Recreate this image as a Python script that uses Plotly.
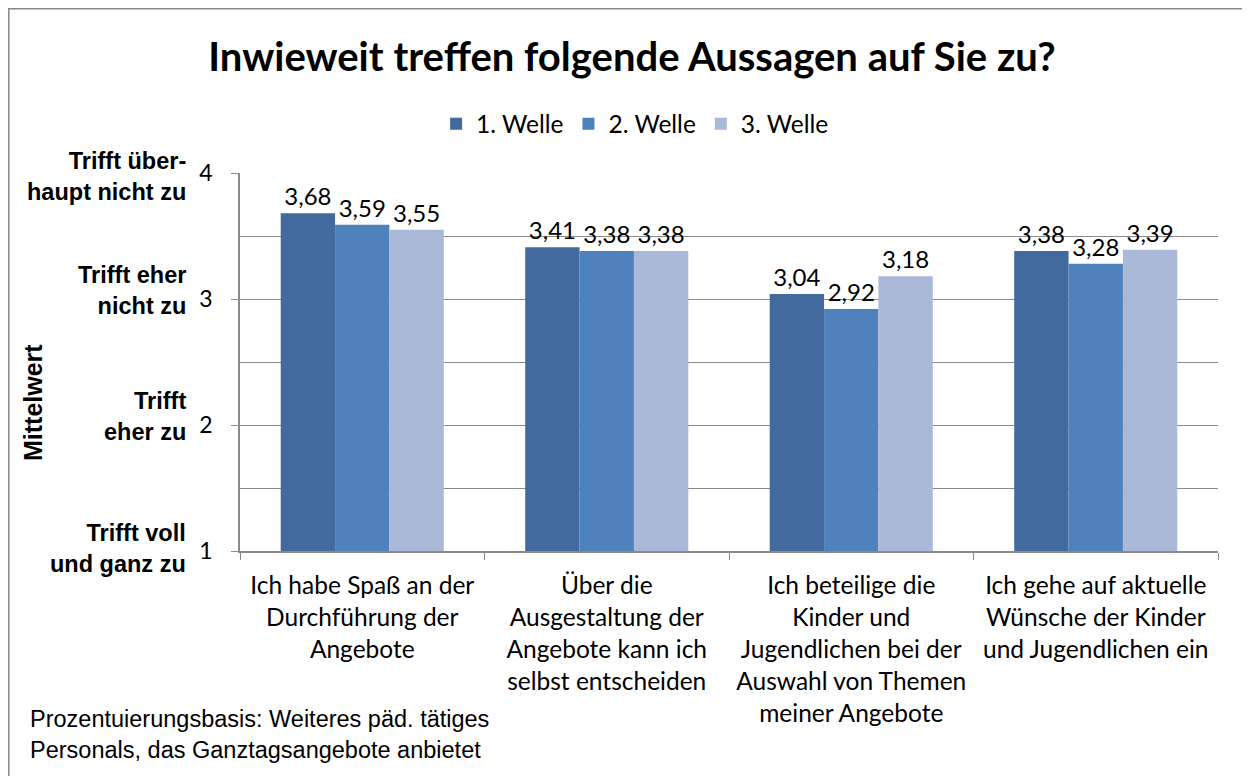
import plotly.graph_objects as go

# data
categories = [
    "Ich habe Spaß an der<br>Durchführung der<br>Angebote",
    "Über die<br>Ausgestaltung der<br>Angebote kann ich<br>selbst entscheiden",
    "Ich beteilige die<br>Kinder und<br>Jugendlichen bei der<br>Auswahl von Themen<br>meiner Angebote",
    "Ich gehe auf aktuelle<br>Wünsche der Kinder<br>und Jugendlichen ein",
]
welle_1 = [3.68, 3.41, 3.04, 3.38]
welle_2 = [3.59, 3.38, 2.92, 3.28]
welle_3 = [3.55, 3.38, 3.18, 3.39]
series_names = ["1. Welle", "2. Welle", "3. Welle"]
series_colors = ["#426A9E", "#4F81BD", "#AAB9D7"]

y_tick_vals = [1, 2, 3, 4]
y_tick_desc = [
    "Trifft voll<br>und ganz zu",
    "Trifft<br>eher zu",
    "Trifft eher<br>nicht zu",
    "Trifft über-<br>haupt nicht zu",
]
# small vertical nudges of the verbal labels (px), as in the original layout
y_desc_shift = [3, 9, 9, -3]

CALIBRI = "Lato, 'Open Sans', sans-serif"
ARIAL = "'Liberation Sans', Arial, sans-serif"
GRID = "#8a8a8a"

fig = go.Figure()
for name, vals, col in zip(series_names, [welle_1, welle_2, welle_3], series_colors):
    fig.add_trace(go.Bar(
        x=categories,
        y=vals,
        name=name,
        marker=dict(color=col, line=dict(width=0)),
        texttemplate="%{y:.2f}",
        textposition="outside",
        textfont=dict(family=CALIBRI, size=24, color="black"),
        cliponaxis=False,
    ))

# bold verbal labels next to the numeric y ticks
for v, txt, sh in zip(y_tick_vals, y_tick_desc, y_desc_shift):
    fig.add_annotation(
        x=-0.0532, xref="paper", y=v, yref="y",
        text=f"<b>{txt}</b>", showarrow=False,
        xanchor="right", yanchor="middle", align="right", yshift=sh,
        font=dict(family=ARIAL, size=23.5, color="black"),
    )

fig.add_annotation(
    x=-0.2117, xref="paper", y=0.394, yref="paper",
    text="<b>Mittelwert</b>", textangle=-90, showarrow=False,
    xanchor="center", yanchor="middle",
    font=dict(family=ARIAL, size=25, color="black"),
)

fig.add_annotation(
    x=-0.2168, xref="paper", y=-0.405, yref="paper",
    text="Prozentuierungsbasis: Weiteres päd. tätiges<br>Personals, das Ganztagsangebote anbietet",
    showarrow=False, xanchor="left", yanchor="top", align="left",
    font=dict(family=ARIAL, size=23.5, color="black"),
)

# outer chart frame
fig.add_shape(
    type="rect", xref="paper", yref="paper",
    x0=-0.2364, x1=1.2, y0=-0.8, y1=1.4345,
    line=dict(color="#878787", width=1.5),
)

fig.update_layout(
    width=1242, height=768,
    margin=dict(l=232, r=32, t=165, b=225),
    paper_bgcolor="white", plot_bgcolor="white",
    separators=",.",
    barmode="group", bargap=0.333, bargroupgap=0,
    title=dict(
        text="<b>Inwieweit treffen folgende Aussagen auf Sie zu?</b>",
        x=0.5024, xanchor="center", y=0.936, yanchor="middle",
        font=dict(family=CALIBRI, size=40, color="black"),
    ),
    legend=dict(
        orientation="h", x=0.404, xanchor="center", y=1.13, yanchor="middle",
        font=dict(family=CALIBRI, size=24.5, color="black"),
        traceorder="normal",
    ),
    xaxis=dict(
        showline=True, linecolor=GRID, linewidth=1.5,
        ticks="outside", tickson="boundaries", ticklen=7, tickcolor=GRID,
        tickfont=dict(family=CALIBRI, size=24.5, color="black"),
        ticklabelstandoff=12,
        showgrid=False,
    ),
    yaxis=dict(
        range=[1, 4], tickvals=y_tick_vals,
        showline=True, linecolor=GRID, linewidth=1.5,
        ticks="outside", ticklen=7, tickcolor=GRID,
        tickfont=dict(family=CALIBRI, size=23, color="black"),
        ticklabelstandoff=14,
        showgrid=True, gridcolor=GRID, gridwidth=1.2,
        minor=dict(dtick=0.5, showgrid=True, gridcolor=GRID, gridwidth=1.2),
        zeroline=False,
    ),
)

fig.write_html("out.html")
